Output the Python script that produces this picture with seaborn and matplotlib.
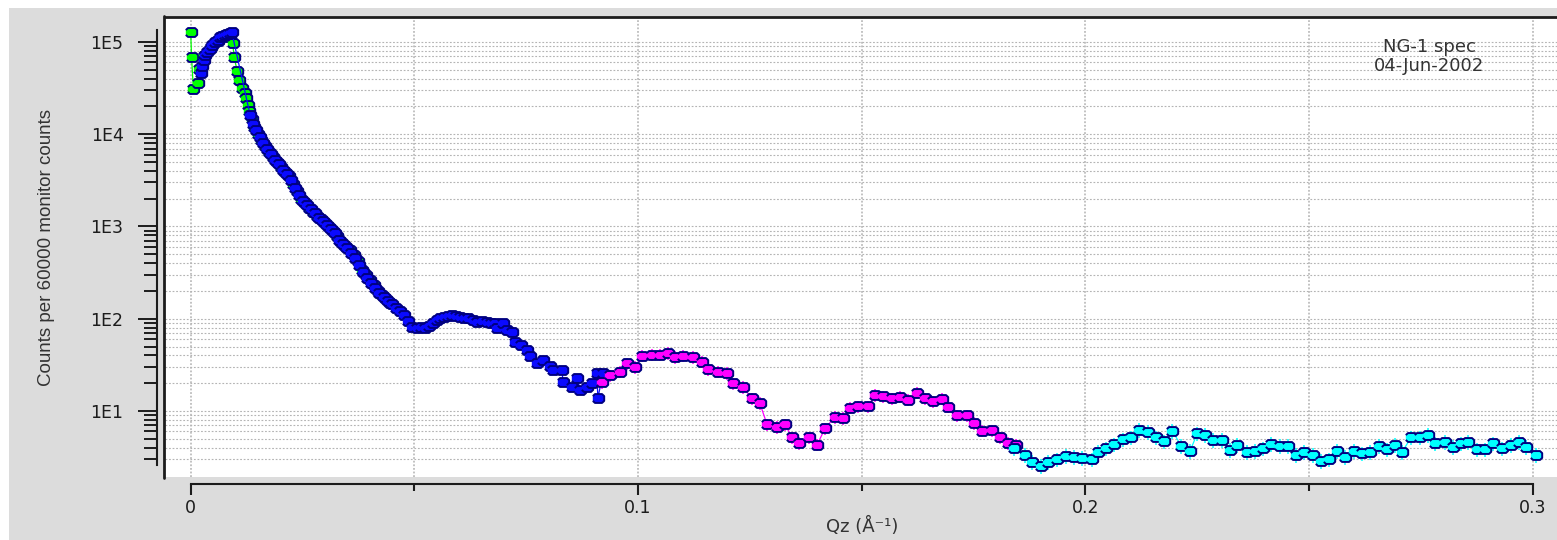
"""
NG-1 specular reflectivity scan (04-Jun-2002), redrawn from the Igor export.
Four slit settings, each a separate trace.
"""
import numpy as np
import pandas as pd
import matplotlib
matplotlib.use("Agg")
import matplotlib.pyplot as plt
import matplotlib.ticker as mticker
from matplotlib import font_manager
from matplotlib.patches import Rectangle
from matplotlib.lines import Line2D
import seaborn as sns

# --- Data (Qz in 1/A, counts per 60000 monitor) ---
green_q = [0.0000, 0.0002, 0.0006, 0.0016, 0.0019, 0.0030, 0.0045, 0.0060, 0.0075, 0.0088,
           0.0094, 0.0097, 0.0104, 0.0109, 0.0114, 0.0121, 0.0124, 0.0127, 0.0131, 0.0136,
           0.0142, 0.0150, 0.0158, 0.0166, 0.0175, 0.0184, 0.0193, 0.0202, 0.0211, 0.0220,
           0.0229, 0.0238, 0.0247, 0.0256, 0.0265, 0.0274, 0.0283, 0.0292, 0.0301, 0.0310,
           0.0319, 0.0328, 0.0337, 0.0346, 0.0355, 0.0364, 0.0373, 0.0382, 0.0391, 0.0400,
           0.0409, 0.0418, 0.0427, 0.0436, 0.0445]
green_i = [1.29e5, 6.8e4, 3.1e4, 3.6e4, 5.1e4, 7.0e4, 8.8e4, 1.02e5, 1.12e5, 1.18e5,
           9.7e4, 6.8e4, 4.9e4, 3.9e4, 3.2e4, 2.8e4, 2.45e4, 2.1e4, 1.8e4, 1.45e4,
           1.2e4, 1.0e4, 8.6e3, 7.4e3, 6.5e3, 5.7e3, 5.0e3, 4.4e3, 3.9e3, 3.5e3,
           2.9e3, 2.4e3, 2.0e3, 1.8e3, 1.6e3, 1.45e3, 1.3e3, 1.2e3, 1.08e3, 980,
           900, 780, 680, 620, 560, 490, 420, 340, 300, 260,
           230, 200, 180, 165, 150]

blue_q = [0.0022, 0.0025, 0.0029, 0.0032, 0.0037, 0.0043, 0.0048, 0.0054, 0.0060, 0.0065,
          0.0071, 0.0077, 0.0082, 0.0088, 0.0092,
          0.0133, 0.0139, 0.0146, 0.0154, 0.0162, 0.0170, 0.0179, 0.0188, 0.0197, 0.0206,
          0.0215, 0.0224, 0.0233, 0.0242, 0.0251, 0.0260, 0.0269, 0.0278, 0.0287, 0.0296,
          0.0305, 0.0314, 0.0323, 0.0332, 0.0341, 0.0350, 0.0359, 0.0368, 0.0377, 0.0386,
          0.0395, 0.0404, 0.0413, 0.0422, 0.0431, 0.0440, 0.0449, 0.0458, 0.0467, 0.0476,
          0.0486, 0.0495, 0.0505, 0.0514, 0.0524, 0.0533, 0.0542, 0.0550, 0.0557, 0.0566,
          0.0575, 0.0584, 0.0593, 0.0602, 0.0611, 0.0620, 0.0630, 0.0640, 0.0651, 0.0662,
          0.0671, 0.0680, 0.0685, 0.0698, 0.0708, 0.0718, 0.0725, 0.0738, 0.0752, 0.0758,
          0.0774, 0.0787, 0.0803, 0.0810, 0.0830, 0.0832, 0.0852, 0.0864, 0.0870, 0.0886,
          0.0897, 0.0908, 0.0910, 0.0922]
blue_i = [4.6e4, 5.5e4, 6.4e4, 7.2e4, 7.8e4, 8.5e4, 9.3e4, 1.0e5, 1.06e5, 1.12e5,
          1.15e5, 1.19e5, 1.22e5, 1.26e5, 1.27e5,
          1.6e4, 1.3e4, 1.1e4, 9.3e3, 8.0e3, 6.9e3, 6.1e3, 5.3e3, 4.7e3, 4.1e3,
          3.7e3, 3.2e3, 2.6e3, 2.2e3, 1.9e3, 1.7e3, 1.55e3, 1.4e3, 1.25e3, 1.15e3,
          1.03e3, 940, 840, 720, 650, 590, 520, 460, 380, 320,
          280, 245, 215, 190, 170, 155, 145, 130, 120, 110,
          95, 82, 79, 82, 79, 84, 90, 96, 102, 105,
          108, 110, 106, 104, 103, 102, 96, 92, 94, 92,
          90, 90, 79, 89, 76, 72, 56, 52, 46, 39,
          33, 36, 31, 28, 28, 20.6, 18, 23, 17, 18,
          20, 26, 13.8, 26]

magenta_q = [0.0919, 0.0937, 0.0960, 0.0975, 0.0993, 0.1009, 0.1031, 0.1049, 0.1067, 0.1082,
             0.1100, 0.1123, 0.1143, 0.1156, 0.1179, 0.1199, 0.1212, 0.1234, 0.1254, 0.1272,
             0.1288, 0.1310, 0.1328, 0.1344, 0.1360, 0.1382, 0.1400, 0.1418, 0.1440, 0.1458,
             0.1474, 0.1492, 0.1514, 0.1530, 0.1547, 0.1567, 0.1585, 0.1603, 0.1623, 0.1641,
             0.1659, 0.1679, 0.1693, 0.1713, 0.1735, 0.1751, 0.1769, 0.1791, 0.1809, 0.1827,
             0.1845]
magenta_i = [20.6, 24.5, 26.5, 33, 30, 39.5, 40.5, 40.5, 42.5, 38.5,
             39.5, 38.5, 34, 28.5, 26.5, 25.8, 20, 18.2, 13.8, 12.2,
             7.2, 6.7, 7.2, 5.2, 4.5, 5.2, 4.3, 6.5, 8.6, 8.4,
             10.8, 11.3, 11.3, 14.9, 14.5, 13.8, 14.2, 13.2, 15.8, 13.8,
             12.8, 13.5, 11.1, 9.0, 9.0, 7.4, 6.1, 6.2, 5.2, 4.5,
             4.3]

cyan_q = [0.1840, 0.1865, 0.1880, 0.1901, 0.1916, 0.1936, 0.1957, 0.1974, 0.1992, 0.2015,
          0.2028, 0.2046, 0.2064, 0.2084, 0.2102, 0.2120, 0.2140, 0.2158, 0.2176, 0.2194,
          0.2214, 0.2234, 0.2250, 0.2268, 0.2286, 0.2305, 0.2323, 0.2339, 0.2361, 0.2379,
          0.2397, 0.2414, 0.2435, 0.2453, 0.2471, 0.2489, 0.2508, 0.2526, 0.2544, 0.2562,
          0.2580, 0.2600, 0.2618, 0.2636, 0.2656, 0.2674, 0.2692, 0.2708, 0.2728, 0.2748,
          0.2766, 0.2782, 0.2804, 0.2822, 0.2840, 0.2855, 0.2875, 0.2893, 0.2911, 0.2931,
          0.2951, 0.2969, 0.2985, 0.3007]
cyan_i = [3.95, 3.33, 2.82, 2.54, 2.82, 2.99, 3.25, 3.20, 3.12, 2.99,
          3.62, 3.95, 4.36, 4.93, 5.19, 6.22, 5.97, 5.19, 4.70, 6.11,
          4.18, 3.72, 5.72, 5.50, 4.85, 4.85, 3.78, 4.28, 3.62, 3.68,
          3.95, 4.39, 4.18, 4.18, 3.33, 3.62, 3.33, 2.89, 2.99, 3.72,
          3.20, 3.72, 3.47, 3.62, 4.18, 3.85, 4.28, 3.62, 5.19, 5.19,
          5.50, 4.47, 4.65, 4.10, 4.47, 4.65, 3.85, 3.85, 4.47, 3.95,
          4.28, 4.65, 4.10, 3.33]

runs = ["green", "blue", "magenta", "cyan"]
run_q = [green_q, blue_q, magenta_q, cyan_q]
run_i = [green_i, blue_i, magenta_i, cyan_i]
rel_err = [0.02, 0.08, 0.15, 0.18]   # relative counting error per run

# --- Styling ---
BG = "#dcdcdc"
NAVY = "#000080"
DARK = "#1c1c1c"
GRID = "#b4b4b4"
PALETTE = {"green": "#00ff00", "blue": "#0a0aff", "magenta": "#ff00ff", "cyan": "#00ffff"}
OCTAGON = [(-1.0, -0.42), (-0.62, -0.78), (0.62, -0.78), (1.0, -0.42),
           (1.0, 0.42), (0.62, 0.78), (-0.62, 0.78), (-1.0, 0.42)]

sns.set_theme(style="white")
plt.rcParams["font.family"] = ["DejaVu Sans"]

names = {f.name for f in font_manager.fontManager.ttflist}
if "Liberation Sans Narrow" in names:
    ylab_font, ylab_size = ["Liberation Sans Narrow", "DejaVu Sans"], 16
else:
    ylab_font, ylab_size = ["Liberation Sans", "DejaVu Sans"], 13.5

W, H = 1557, 540
fig = plt.figure(figsize=(W / 100, H / 100), dpi=100, facecolor=BG)
# thin white margins at top and left, as in the exported window
fig.add_artist(Rectangle((0, 1 - 8 / H), 1, 8 / H, transform=fig.transFigure,
                         facecolor="white", edgecolor="none", zorder=-5))
fig.add_artist(Rectangle((0, 0), 9 / W, 1, transform=fig.transFigure,
                         facecolor="white", edgecolor="none", zorder=-5))

ax = fig.add_axes([165 / W, 1 - 477 / H, (W - 165) / W, 460 / H])
ax.set_facecolor("white")
ax.set_yscale("log")

df = pd.concat([pd.DataFrame({"q": q, "I": i, "run": r})
                for r, q, i in zip(runs, run_q, run_i)], ignore_index=True)

for r, q, i, e in zip(runs, run_q, run_i, rel_err):
    i = np.asarray(i)
    ax.errorbar(q, i, yerr=e * i, fmt="none", ecolor=PALETTE[r],
                elinewidth=1.1, capsize=0, zorder=2)

sns.lineplot(data=df, x="q", y="I", hue="run", hue_order=runs, palette=PALETTE,
             estimator=None, sort=False, legend=False, ax=ax,
             marker=OCTAGON, markersize=8.2, markeredgecolor=NAVY,
             markeredgewidth=1.4, linewidth=0.9, zorder=3)

ax.set_xlim(-0.00574, 0.30539)
ax.set_ylim(1.926, 1.866e5)

# ticks & grid
ax.xaxis.set_major_locator(mticker.MultipleLocator(0.1))
ax.xaxis.set_minor_locator(mticker.MultipleLocator(0.05))
ax.xaxis.set_major_formatter(mticker.FuncFormatter(lambda v, p: "0" if abs(v) < 1e-9 else f"{v:.1f}"))
ax.yaxis.set_major_locator(mticker.FixedLocator([1e1, 1e2, 1e3, 1e4, 1e5]))
minor_y = [m * 10.0 ** e for e in range(0, 5) for m in range(2, 10) if m * 10.0 ** e >= 3]
ax.yaxis.set_minor_locator(mticker.FixedLocator(minor_y))
ax.yaxis.set_major_formatter(mticker.FuncFormatter(lambda v, p: f"1E{int(round(np.log10(v)))}"))
ax.yaxis.set_minor_formatter(mticker.NullFormatter())

ax.set_axisbelow(True)
ax.grid(True, which="both", axis="y", color=GRID, linestyle=(0, (1.6, 1.6)), linewidth=0.8)
ax.grid(True, which="both", axis="x", color="#bdbdbd", linestyle=(0, (1.0, 1.0)), linewidth=1.3)

ax.tick_params(axis="y", which="major", direction="out", length=14, width=1.4,
               pad=10, labelsize=12.5, colors=DARK, left=True)
ax.tick_params(axis="y", which="minor", direction="out", length=9.5, width=1.4, colors=DARK, left=True)
ax.tick_params(axis="x", which="major", direction="out", length=8, width=1.5,
               pad=3, labelsize=12.5, colors=DARK, bottom=True)
ax.tick_params(axis="x", which="minor", direction="out", length=5, width=1.5, colors=DARK, bottom=True)

for s in ["left", "bottom", "top"]:
    ax.spines[s].set_color(DARK)
ax.spines["right"].set_visible(False)
ax.spines["top"].set_linewidth(2.0)
ax.spines["left"].set_linewidth(1.5)
ax.spines["left"].set_position(("outward", 5.8))
ax.spines["left"].set_bounds(2.6, 1.35e5)
ax.spines["bottom"].set_linewidth(1.5)
ax.spines["bottom"].set_position(("outward", 5))
ax.spines["bottom"].set_bounds(0, 0.3)

# plot frame edge (separate from the offset axis line)
fig.add_artist(Line2D([164 / W, 164 / W], [1 - 478 / H, 1 - 16 / H],
                      transform=fig.transFigure, color=DARK, linewidth=2.0))

ax.set_xlabel("Qz (Å⁻¹)", fontsize=13, color="#333333")
ax.xaxis.label.set_va("center")
ax.xaxis.set_label_coords(0.5007, -0.1065)
ax.set_ylabel("Counts per 60000 monitor counts", fontsize=ylab_size,
              family=ylab_font, color="#333333")
ax.yaxis.label.set_va("center")
ax.yaxis.set_label_coords(-0.0848, 0.498)

fig.text(1429 / W, 1 - 47 / H, "NG-1 spec", ha="center", va="center",
         fontsize=13, color="#333333")
fig.text(1429 / W, 1 - 66 / H, "04-Jun-2002", ha="center", va="center",
         fontsize=13, color="#333333")

fig.savefig("out.png", dpi=100, facecolor=BG)
